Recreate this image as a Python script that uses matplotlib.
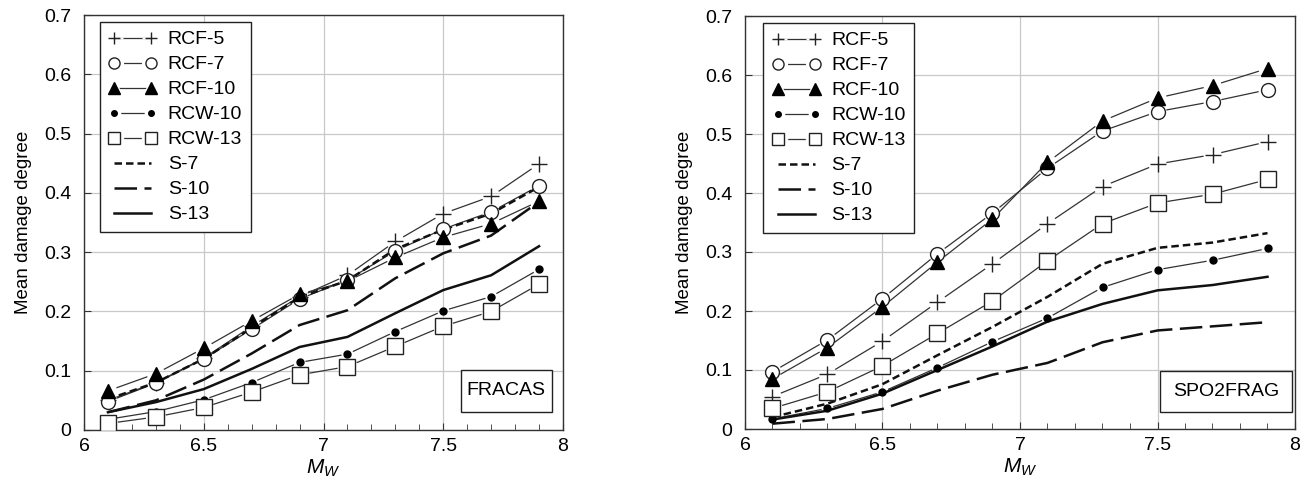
import numpy as np
import matplotlib
matplotlib.use("Agg")
from matplotlib import pyplot as plt
from matplotlib.collections import LineCollection
from matplotlib.lines import Line2D
from matplotlib.patches import Rectangle

plt.rcParams['font.family'] = ['Liberation Sans', 'DejaVu Sans']
plt.rcParams['mathtext.fontset'] = 'custom'
plt.rcParams['mathtext.it'] = 'Liberation Sans:italic'
plt.rcParams['mathtext.rm'] = 'Liberation Sans'

# data ··························································
mw = [6.1, 6.3, 6.5, 6.7, 6.9, 7.1, 7.3, 7.5, 7.7, 7.9]

# FRACAS
rcf5_f = [0.050, 0.080, 0.121, 0.175, 0.225, 0.261, 0.318, 0.365, 0.394, 0.449]
rcf7_f = [0.048, 0.079, 0.120, 0.170, 0.221, 0.253, 0.302, 0.339, 0.368, 0.412]
rcf10_f = [0.066, 0.095, 0.138, 0.184, 0.229, 0.251, 0.291, 0.325, 0.348, 0.386]
rcw10_f = [0.018, 0.031, 0.051, 0.080, 0.114, 0.128, 0.166, 0.201, 0.225, 0.271]
rcw13_f = [0.011, 0.022, 0.038, 0.064, 0.093, 0.107, 0.141, 0.175, 0.200, 0.246]
s7_f = [0.052, 0.080, 0.120, 0.172, 0.224, 0.252, 0.305, 0.338, 0.365, 0.410]
s10_f = [0.030, 0.050, 0.085, 0.129, 0.177, 0.202, 0.256, 0.298, 0.328, 0.385]
s13_f = [0.030, 0.047, 0.069, 0.103, 0.140, 0.157, 0.197, 0.236, 0.261, 0.310]

# SPO2FRAG
rcf5_s = [0.055, 0.093, 0.149, 0.215, 0.280, 0.348, 0.411, 0.449, 0.465, 0.487]
rcf7_s = [0.097, 0.151, 0.221, 0.297, 0.366, 0.442, 0.505, 0.538, 0.555, 0.575]
rcf10_s = [0.085, 0.138, 0.207, 0.283, 0.356, 0.452, 0.522, 0.561, 0.582, 0.611]
rcw10_s = [0.017, 0.035, 0.063, 0.104, 0.148, 0.188, 0.240, 0.270, 0.286, 0.306]
rcw13_s = [0.035, 0.063, 0.107, 0.162, 0.217, 0.285, 0.348, 0.383, 0.398, 0.423]
s7_s = [0.020, 0.043, 0.076, 0.125, 0.173, 0.224, 0.280, 0.307, 0.316, 0.332]
s10_s = [0.009, 0.017, 0.034, 0.065, 0.092, 0.112, 0.147, 0.167, 0.174, 0.181]
s13_s = [0.016, 0.031, 0.060, 0.100, 0.140, 0.182, 0.212, 0.235, 0.244, 0.258]

labels = ['RCF-5', 'RCF-7', 'RCF-10', 'RCW-10', 'RCW-13', 'S-7', 'S-10', 'S-13']

# styles ························································
grey = '#333333'
mstyles = [
    dict(marker='+', ms=11, mfc='none', mec='#222222', mew=1.0),
    dict(marker='o', ms=10, mfc='white', mec='#222222', mew=1.0),
    dict(marker='^', ms=10, mfc='black', mec='black', mew=1.0),
    dict(marker='o', ms=5, mfc='black', mec='black', mew=1.0),
    dict(marker='s', ms=11, mfc='white', mec='#222222', mew=1.0),
]
gaps = [9, 9, 9, 6, 10]
sstyles = [
    dict(color='#111111', lw=1.8, dashes=(3.0, 1.6)),
    dict(color='#111111', lw=1.8, dashes=(9.0, 3.0)),
    dict(color='#111111', lw=1.8, linestyle='-'),
]
fs = 14


def gapped(ax, x, y, gap, **kw):
    # connecting segments that stop short of the markers
    pts = ax.transData.transform(np.column_stack([x, y]))
    inv = ax.transData.inverted()
    segs = []
    for p0, p1 in zip(pts[:-1], pts[1:]):
        d = p1 - p0
        L = np.hypot(*d)
        if L <= 2 * gap:
            continue
        u = d / L
        segs.append(inv.transform([p0 + u * gap, p1 - u * gap]))
    ax.add_collection(LineCollection(segs, **kw))


def panel(ax, marked, plain, tag, tagbox):
    ax.set_xlim(6, 8)
    ax.set_ylim(0, 0.7)
    ax.set_xticks([6, 6.5, 7, 7.5, 8])
    ax.set_xticklabels(['6', '6.5', '7', '7.5', '8'])
    ax.set_xticks(np.arange(6.1, 8.0, 0.1), minor=True)
    ax.set_yticks(np.arange(0, 0.71, 0.1))
    ax.set_yticklabels(['0', '0.1', '0.2', '0.3', '0.4', '0.5', '0.6', '0.7'])
    ax.grid(True, which='major', color='#c8c8c8', lw=0.9)
    ax.set_axisbelow(True)
    ax.tick_params(which='both', direction='in', labelsize=fs, color=grey)
    ax.tick_params(axis='y', pad=9)
    ax.tick_params(axis='x', pad=6)
    ax.tick_params(which='major', length=5)
    ax.tick_params(which='minor', length=4)
    for s in ax.spines.values():
        s.set_color(grey)
        s.set_linewidth(1.0)

    handles = []
    for y, st, g in zip(marked, mstyles, gaps):
        gapped(ax, mw, y, g, colors=grey, linewidths=0.9, zorder=3)
        ax.plot(mw, y, ls='none', zorder=4, **st)
        handles.append((Line2D([], [], color=grey, lw=0.9),
                        Line2D([], [], ls='none', marker=st['marker'],
                               ms=st['ms'] + 6, mfc='white', mec='white'),
                        Line2D([], [], ls='none', **st)))
    for y, st in zip(plain, sstyles):
        ax.plot(mw, y, zorder=3, **st)
        handles.append(Line2D([], [], **st))

    leg = ax.legend(handles, labels, loc='upper left', numpoints=2,
                    markerscale=0.8,
                    bbox_to_anchor=(0.033, 0.983), borderaxespad=0,
                    fontsize=fs, handlelength=2.5, handletextpad=0.55,
                    labelspacing=0.38, borderpad=0.45, fancybox=False,
                    framealpha=1, edgecolor='#222222')
    leg.get_frame().set_linewidth(1.0)

    x0, y0, w, h = tagbox
    ax.add_patch(Rectangle((x0, y0), w, h, transform=ax.transAxes,
                           fc='white', ec='#222222', lw=1.0, zorder=5))
    ax.text(x0 + w / 2, y0 + h / 2, tag, transform=ax.transAxes,
            ha='center', va='center', fontsize=fs, zorder=6)

    ax.set_xlabel(r'$M_W$', fontsize=15, labelpad=2)
    ax.set_ylabel('Mean damage degree', fontsize=13.5, labelpad=9)


fig = plt.figure(figsize=(13.11, 4.84), dpi=100)
ax1 = fig.add_axes([84 / 1311, 1 - 430 / 484, 479 / 1311, 415 / 484])
ax2 = fig.add_axes([745 / 1311, 1 - 429 / 484, 550 / 1311, 413 / 484])

panel(ax1, [rcf5_f, rcf7_f, rcf10_f, rcw10_f, rcw13_f],
      [s7_f, s10_f, s13_f], 'FRACAS', (0.787, 0.044, 0.189, 0.100))
panel(ax2, [rcf5_s, rcf7_s, rcf10_s, rcw10_s, rcw13_s],
      [s7_s, s10_s, s13_s], 'SPO2FRAG', (0.755, 0.040, 0.239, 0.100))

fig.savefig('out.png', dpi=100)
plt.close()
